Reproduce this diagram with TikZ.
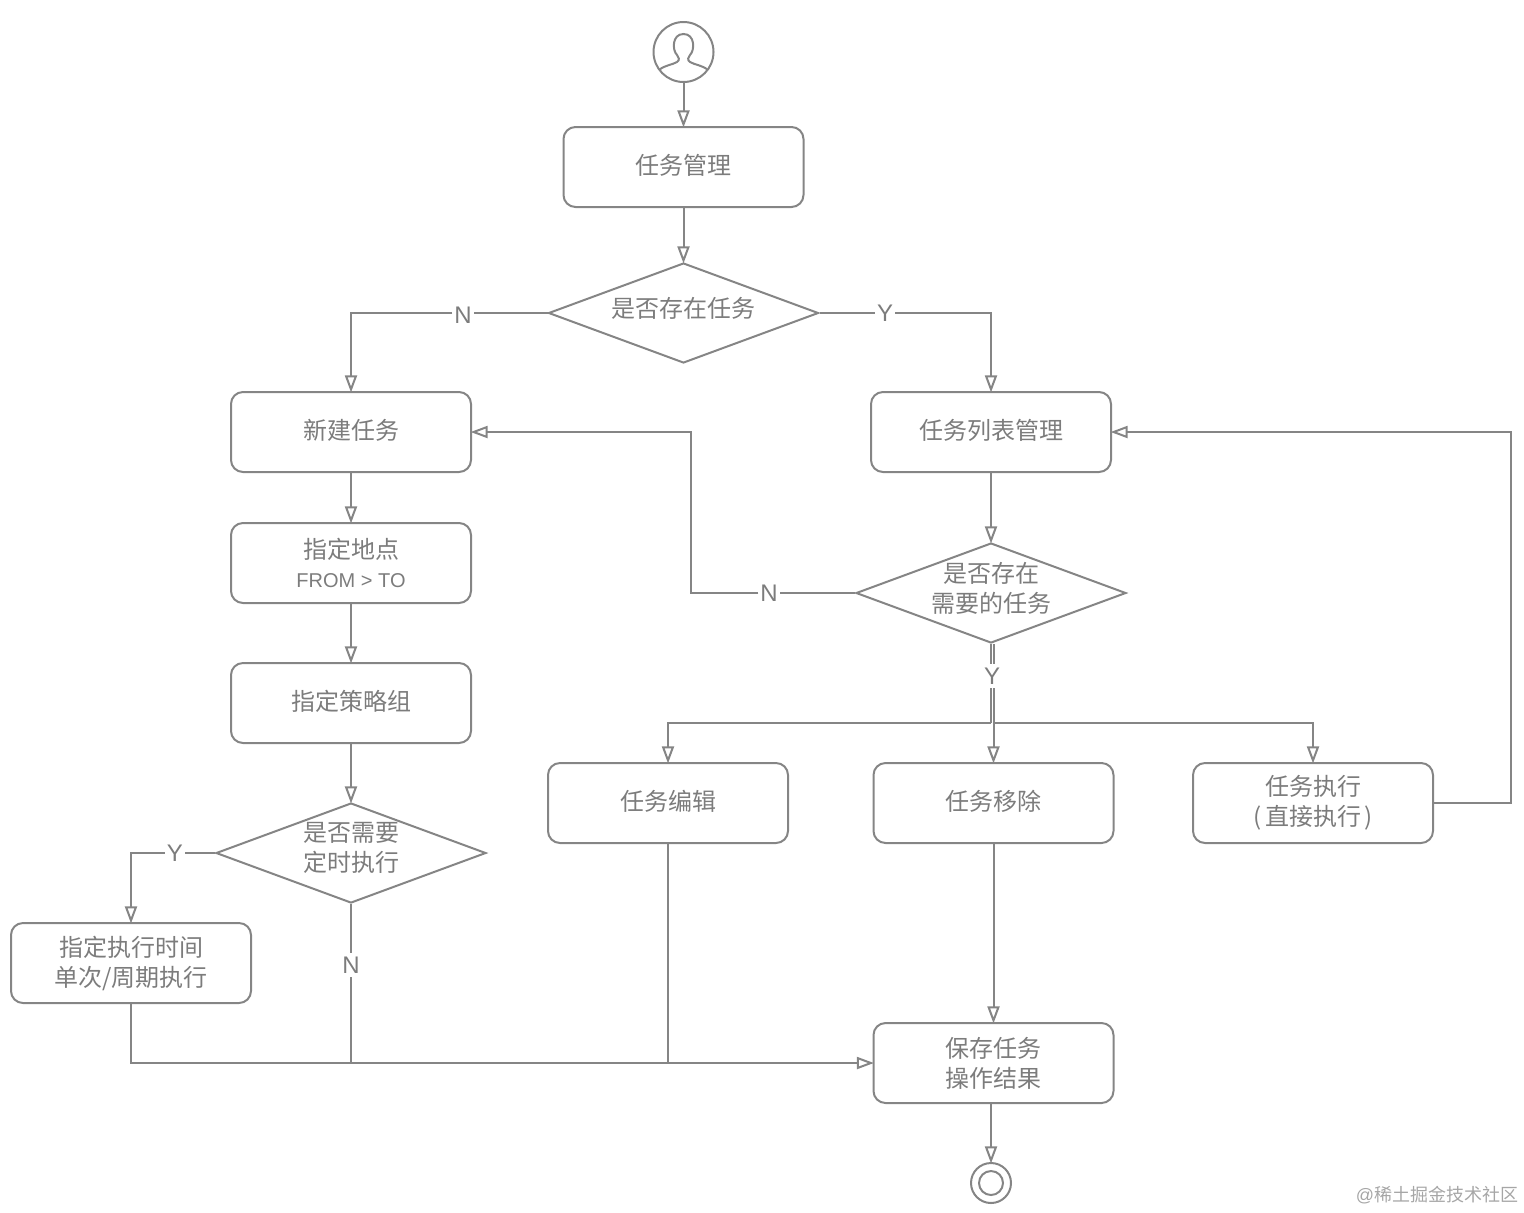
\documentclass[tikz,border=0pt]{standalone}
\usepackage{fontspec}
\setmainfont{Liberation Sans}
\newfontfamily\cjk{Noto Sans CJK SC}
\usepackage{xcolor}
\usetikzlibrary{arrows.meta,shapes.geometric}
\definecolor{linegray}{HTML}{858585}
\definecolor{textgray}{HTML}{7C7C7C}

\begin{document}
\begin{tikzpicture}[
    x=0.5pt,
    y=-0.5pt,
    line width=1pt,
    component/.style={rectangle, draw=linegray, rounded corners=6pt, minimum width=120pt, minimum height=40pt, align=center, text=textgray, font=\cjk\fontsize{12}{15}\selectfont},
    single/.style={component, text depth=2.8pt},
    decision/.style={diamond, draw=linegray, inner sep=0pt, minimum width=135pt, minimum height=50pt},
    decision text/.style={align=center, text=textgray, yshift=2.5pt, font=\cjk\fontsize{12}{15}\selectfont},
    branch/.style={inner xsep=0.5pt, inner ysep=1.5pt, text=textgray, font=\fontsize{12}{14}\selectfont},
    arrow/.style={draw=linegray, shorten >=-0.7pt, -{Triangle[open, fill=white, length=8.5pt, width=6pt]}},
    wire/.style={draw=linegray}
]
\useasboundingbox (0,0) rectangle (1524,1212);

% Start and end
\node[circle, draw=linegray, minimum size=30pt, inner sep=0pt] (start_user) at (683.5,52) {};
\node[circle, draw=linegray, minimum size=20pt, inner sep=0pt] (end_state) at (991,1183) {};
\node[circle, draw=linegray, minimum size=12pt, inner sep=0pt] (end_inner) at (991,1183) {};
\draw[wire] (659,70) .. controls (665,65) and (672,65) .. (677,62) .. controls (680,60) and (679,57) .. (677,55) .. controls (672,50) and (672,34) .. (683.5,34) .. controls (695,34) and (695,50) .. (690,55) .. controls (688,57) and (687,60) .. (690,62) .. controls (695,65) and (702,65) .. (708,70);

% Main boxes
\node[single] (task_manage) at (683.5,167) {任务管理};
\node[single] (new_task) at (351,432) {新建任务};
\node[single] (task_list) at (991,432) {任务列表管理};
\node[component] (set_place) at (351,563) {指定地点\\[-0.5pt]{\rmfamily\fontsize{10}{12}\selectfont FROM > TO}};
\node[single] (set_policy) at (351,703) {指定策略组};
\node[component] (set_time) at (131,963) {指定执行时间\\单次/周期执行};
\node[single] (task_edit) at (668,803) {任务编辑};
\node[single] (task_remove) at (993.5,803) {任务移除};
\node[component] (task_run) at (1313,803) {任务执行\\(\hspace{1.5pt}直接执行\hspace{1.5pt})};
\node[component] (task_save) at (993.5,1063) {保存任务\\操作结果};

% Decisions
\node[decision, label={[decision text]center:是否存在任务}] (has_task) at (683.5,313) {};
\node[decision, label={[decision text]center:是否存在\\需要的任务}] (need_task) at (991,593) {};
\node[decision, label={[decision text]center:是否需要\\定时执行}] (need_timer) at (351,853) {};

% Branch labels
\node[branch] (has_no) at (463,315) {N};
\node[branch] (has_yes) at (885,313) {Y};
\node[branch] (need_no) at (769,593) {N};
\node[branch] (need_yes) at (992,676) {Y};
\node[branch] (timer_yes) at (175,853) {Y};
\node[branch] (timer_no) at (351,965) {N};

% Corner points
\coordinate (back_top) at (691,432);
\coordinate (loop_top) at (1511,432);
\coordinate (split_left) at (991,723);
\coordinate (split_right) at (993.5,723);
\coordinate (timer_join) at (351,1063);
\coordinate (edit_join) at (668,1063);
\coordinate (time_join) at (131,1063);

% Connections
\draw[arrow] (start_user) -- (task_manage);
\draw[arrow] (task_manage) -- (has_task);
\draw[wire] (has_task.west) -- (has_task.west -| has_no.east);
\draw[arrow] (has_no.west |- has_task.west) -| (new_task.north);
\draw[wire] (has_task.east) -- (has_yes.west |- has_task.east);
\draw[arrow] (has_yes.east |- has_task.east) -| (task_list.north);
\draw[arrow] (new_task) -- (set_place);
\draw[arrow] (set_place) -- (set_policy);
\draw[arrow] (set_policy) -- (need_timer);
\draw[arrow] (task_list) -- (need_task);
\draw[wire] (need_timer.west) -- (timer_yes.east);
\draw[arrow] (timer_yes.west) -| (set_time.north);
\draw[wire] (need_timer.south) -- (timer_no.north);
\draw[wire] (timer_no.south) -- (timer_join);
\draw[wire] (need_task.west) -- (need_no.east);
\draw[arrow] (need_no.west) -| (back_top) -- (new_task.east);

% Double line under the second decision
\draw[wire] (need_task.south) -- (need_task.south |- need_yes.north);
\draw[wire] ([xshift=1.25pt]need_task.south) -- ([xshift=1.25pt]need_task.south |- need_yes.north);
\draw[wire] (need_task.south |- need_yes.south) -- (split_left);
\draw[wire] (split_right |- need_yes.south) -- (split_right);
\draw[arrow] (split_left) -| (task_edit.north);
\draw[arrow] (split_right) -- (task_remove.north);
\draw[arrow] (split_right) -| (task_run.north);

% Towards the save step
\draw[arrow] (task_run.east) -| (loop_top) -- (task_list.east);
\draw[arrow] (task_remove) -- (task_save);
\draw[wire] (task_edit.south) -- (edit_join);
\draw[arrow] (set_time.south) -- (time_join) -- (task_save.west);
\draw[arrow] (task_save.south -| end_state.north) -- (end_state.north);

% Watermark
\node[text=gray!70, inner sep=0pt, font=\fontsize{9}{11}\selectfont] (watermark) at (1437,1195) {@{\cjk 稀土掘金技术社区}};

\end{tikzpicture}
\end{document}
